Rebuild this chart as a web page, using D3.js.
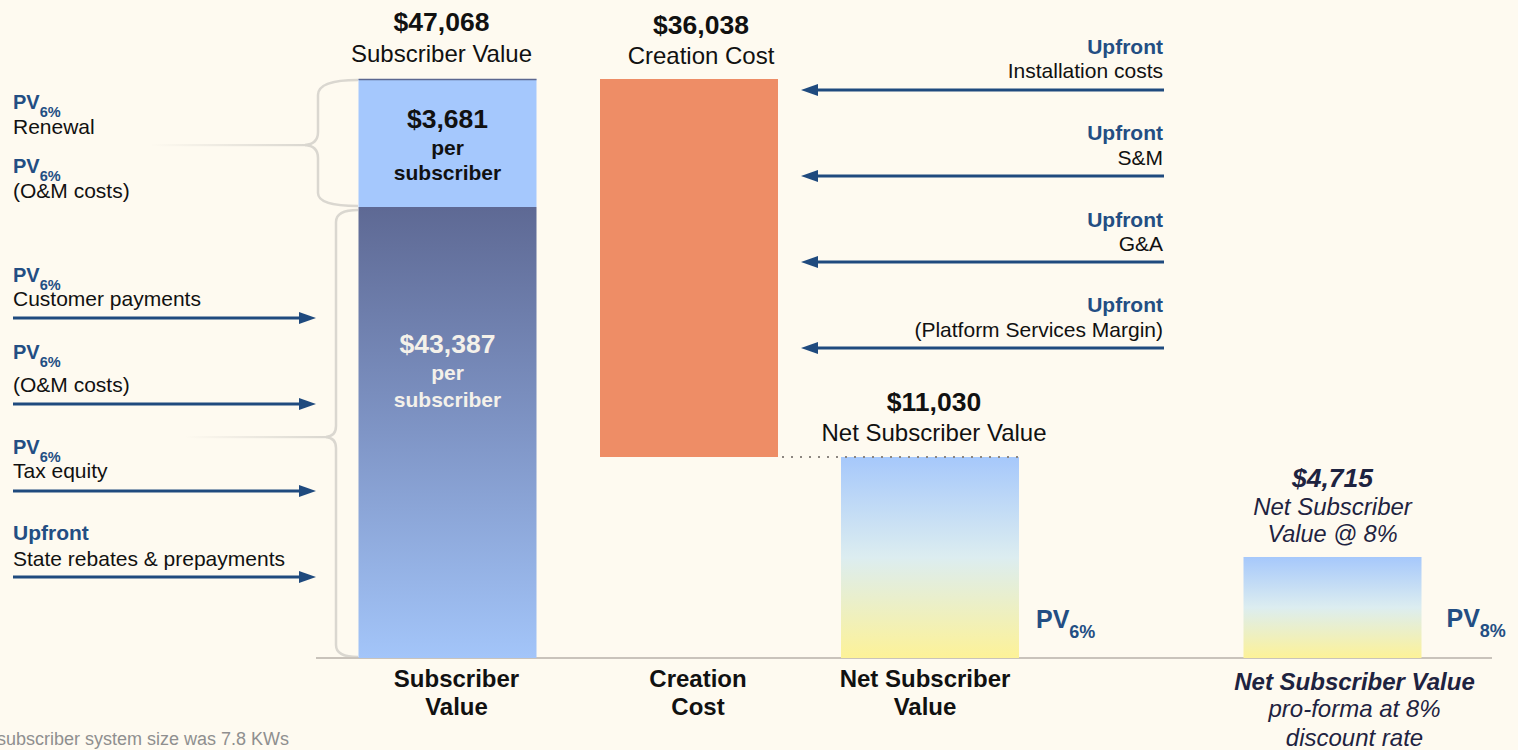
<!DOCTYPE html>
<html>
<head>
<meta charset="utf-8">
<script src="https://cdn.jsdelivr.net/npm/d3@7"></script>
<style>
  body { margin: 0; background: #fefaf0; }
  svg { display: block; font-family: "Liberation Sans", Arial, Helvetica, sans-serif; }
</style>
</head>
<body>
<div id="chart"></div>
<script>
// ---- data ----
const barNames = ["Subscriber Value", "Creation Cost", "Net Subscriber Value", "Net Subscriber Value @ 8%"];
const barValues = [47068, 36038, 11030, 4715];
const valueParts = [43387, 3681];            // recurring PV, renewal PV
const barTitles = ["$47,068", "$36,038", "$11,030", "$4,715"];
const partLabels = ["$43,387", "$3,681"];
const bottomLabels = [["Subscriber", "Value"], ["Creation", "Cost"], ["Net Subscriber", "Value"],
  ["Net Subscriber Value", "pro-forma at 8%", "discount rate"]];

const leftTags = ["PV", "PV", "PV", "PV", "PV", "Upfront"];
const leftSubs = ["6%", "6%", "6%", "6%", "6%", ""];
const leftTexts = ["Renewal", "(O&M costs)", "Customer payments", "(O&M costs)", "Tax equity", "State rebates & prepayments"];
const leftArrows = [false, false, true, true, true, true];

const rightTags = ["Upfront", "Upfront", "Upfront", "Upfront"];
const rightTexts = ["Installation costs", "S&M", "G&A", "(Platform Services Margin)"];

const footnote = "subscriber system size was 7.8 KWs";

// ---- layout ----
const W = 1518, H = 750;
const blue = "#1f4a7e", tagBlue = "#234e83", navy = "#1e2340", ink = "#111";
const barW = 178;

const svg = d3.select("#chart").append("svg")
    .attr("width", W).attr("height", H);

svg.append("rect").attr("width", W).attr("height", H).attr("fill", "#fefaf0");

const defs = svg.append("defs");
function vGrad(id, stops) {
  const g = defs.append("linearGradient").attr("id", id)
      .attr("x1", 0).attr("y1", 0).attr("x2", 0).attr("y2", 1);
  stops.forEach(s => g.append("stop").attr("offset", s[0]).attr("stop-color", s[1]));
}
vGrad("darkBlue", [[0, "#5e6994"], [0.5, "#7f95c6"], [1, "#a3c5f9"]]);
vGrad("netGrad", [[0, "#a6c8fb"], [0.5, "#dcedf0"], [1, "#fdf298"]]);
const tail = defs.append("linearGradient").attr("id", "tail")
    .attr("x1", 0).attr("y1", 0).attr("x2", 1).attr("y2", 0);
tail.append("stop").attr("offset", 0).attr("stop-color", "#dad7d0").attr("stop-opacity", 0);
tail.append("stop").attr("offset", 1).attr("stop-color", "#dad7d0").attr("stop-opacity", 1);

// the slide is schematic, not to scale: piecewise scale through the key values
const y = d3.scaleLinear()
    .domain([0, barValues[3], barValues[2], valueParts[0], barValues[0]])
    .range([658, 557, 457, 207, 79]);

const x = d3.scaleOrdinal()
    .domain(barNames)
    .range([447.5, 689, 930, 1332.5]);

// braces on the left of the first bar
const braceColor = "#dad7d0";
svg.append("path")
    .attr("d", "M358,80 Q318,80 318,95 L318,132 Q318,144 305,145 Q318,146 318,158 L318,193 Q318,206 358,206")
    .attr("fill", "none").attr("stroke", braceColor).attr("stroke-width", 2.5);
svg.append("rect").attr("x", 150).attr("y", 144).attr("width", 156).attr("height", 2.2).attr("fill", "url(#tail)");
svg.append("path")
    .attr("d", "M358,210 Q336,210 336,222 L336,426 Q336,436 326,437 Q336,438 336,448 L336,645 Q336,657 358,657")
    .attr("fill", "none").attr("stroke", braceColor).attr("stroke-width", 2.5);
svg.append("rect").attr("x", 185).attr("y", 436).attr("width", 142).attr("height", 2.2).attr("fill", "url(#tail)");

// baseline
svg.append("line")
    .attr("x1", 316).attr("x2", 1492).attr("y1", y(0)).attr("y2", y(0))
    .attr("stroke", "#c9c3bb").attr("stroke-width", 2);

// ---- bars ----
const bars = [
  { name: barNames[0], top: valueParts[0], bottom: 0, fill: "url(#darkBlue)" },
  { name: barNames[0], top: valueParts[0] + valueParts[1], bottom: valueParts[0], fill: "#a5c8fd" },
  { name: barNames[1], top: barValues[0], bottom: barValues[0] - barValues[1], fill: "#ee8d66" },
  { name: barNames[2], top: barValues[2], bottom: 0, fill: "url(#netGrad)" },
  { name: barNames[3], top: barValues[3], bottom: 0, fill: "url(#netGrad)" }
];
svg.selectAll("rect.bar")
  .data(bars)
  .enter().append("rect")
    .attr("class", "bar")
    .attr("x", d => x(d.name) - barW / 2)
    .attr("y", d => y(d.top))
    .attr("width", barW)
    .attr("height", d => y(d.bottom) - y(d.top))
    .attr("fill", d => d.fill);

// thin dark top edge of subscriber bar
svg.append("line")
    .attr("x1", x(barNames[0]) - barW / 2).attr("x2", x(barNames[0]) + barW / 2)
    .attr("y1", y(barValues[0]) + 0.5).attr("y2", y(barValues[0]) + 0.5)
    .attr("stroke", "#5c6790").attr("stroke-width", 1.5);

// dotted connector from creation cost to net value
svg.append("line")
    .attr("x1", x(barNames[1]) + barW / 2 + 4).attr("x2", x(barNames[2]) + barW / 2)
    .attr("y1", y(barValues[2])).attr("y2", y(barValues[2]))
    .attr("stroke", "#8c8680").attr("stroke-width", 2).attr("stroke-dasharray", "2,7");

// ---- text helper ----
function txt(xp, yp, s, o = {}) {
  return svg.append("text")
      .attr("x", xp).attr("y", yp)
      .attr("text-anchor", o.anchor || "middle")
      .attr("font-size", o.size || 24)
      .attr("font-weight", o.weight || "normal")
      .attr("font-style", o.style || "normal")
      .attr("fill", o.fill || ink)
      .text(s);
}
function pv(xp, yp, tag, sub, size, subSize, subDy) {
  const t = svg.append("text").attr("x", xp).attr("y", yp)
      .attr("font-weight", "bold").attr("fill", tagBlue);
  t.append("tspan").attr("font-size", size).text(tag);
  if (sub) t.append("tspan").attr("font-size", subSize).attr("dy", subDy).text(sub);
}

// titles above bars
const titleOffsets = [-6, 12, 4, 0];
const titleY = [[31, 62], [34, 64], [411, 441]];
titleY.forEach((ty, i) => {
  txt(x(barNames[i]) + titleOffsets[i], ty[0], barTitles[i], { size: 26.5, weight: "bold" });
  txt(x(barNames[i]) + titleOffsets[i], ty[1], barNames[i], { size: 24 });
});
txt(x(barNames[3]), 487, barTitles[3], { size: 26.5, weight: "bold", style: "italic", fill: navy });
txt(x(barNames[3]), 515, "Net Subscriber", { size: 24, style: "italic", fill: navy });
txt(x(barNames[3]), 542, "Value @ 8%", { size: 23.5, style: "italic", fill: navy });

// labels inside the subscriber bar
const cx0 = x(barNames[0]);
txt(cx0, 128, partLabels[1], { size: 26.5, weight: "bold" });
txt(cx0, 155, "per", { size: 21, weight: "bold" });
txt(cx0, 180, "subscriber", { size: 21, weight: "bold" });
txt(cx0, 353, partLabels[0], { size: 26.5, weight: "bold", fill: "#f4f1ea" });
txt(cx0, 380, "per", { size: 21, weight: "bold", fill: "#f4f1ea" });
txt(cx0, 407, "subscriber", { size: 21, weight: "bold", fill: "#f4f1ea" });

// category labels below the baseline
const bottomOffsets = [9, 9, -5];
[0, 1, 2].forEach(i => {
  txt(x(barNames[i]) + bottomOffsets[i], 687, bottomLabels[i][0], { size: 24, weight: "bold" });
  txt(x(barNames[i]) + bottomOffsets[i], 715, bottomLabels[i][1], { size: 24, weight: "bold" });
});
txt(x(barNames[3]) + 22, 690, bottomLabels[3][0], { size: 24, weight: "bold", style: "italic", fill: navy });
txt(x(barNames[3]) + 22, 717, bottomLabels[3][1], { size: 24, style: "italic", fill: navy });
txt(x(barNames[3]) + 22, 746, bottomLabels[3][2], { size: 24, style: "italic", fill: navy });

// PV markers beside the net bars
pv(x(barNames[2]) + barW / 2 + 17, 628, "PV", "6%", 25, 18, 10);
pv(x(barNames[3]) + barW / 2 + 25, 627, "PV", "8%", 25, 18, 10);

// ---- arrows ----
function arrow(x1, x2, yy) {
  const dir = Math.sign(x2 - x1), head = 17, half = 6;
  svg.append("line").attr("x1", x1).attr("x2", x2 - dir * head + dir).attr("y1", yy).attr("y2", yy)
      .attr("stroke", blue).attr("stroke-width", 2.8);
  svg.append("path")
      .attr("d", `M${x2},${yy} L${x2 - dir * head},${yy - half} L${x2 - dir * head},${yy + half} Z`)
      .attr("fill", blue);
}

// left side inflows
const leftPos = [
  { tag: 109, text: 134 }, { tag: 173, text: 198 },
  { tag: 282, text: 306, arrow: 318 }, { tag: 359, text: 392, arrow: 404 },
  { tag: 454, text: 478, arrow: 491 }, { tag: 540, text: 566, arrow: 577 }
];
leftTags.forEach((tag, i) => {
  const p = leftPos[i];
  if (leftSubs[i]) pv(13, p.tag, tag, leftSubs[i], 20, 14.5, 8);
  else txt(13, p.tag, tag, { anchor: "start", size: 21, weight: "bold", fill: tagBlue });
  txt(13, p.text, leftTexts[i], { anchor: "start", size: 21 });
  if (leftArrows[i]) arrow(13, 316, p.arrow);
});

// right side outflows
const rightPos = [
  { tag: 54, text: 78, arrow: 90 }, { tag: 140, text: 165, arrow: 176 },
  { tag: 227, text: 251, arrow: 262 }, { tag: 312, text: 337, arrow: 348 }
];
rightTags.forEach((tag, i) => {
  const p = rightPos[i];
  txt(1163, p.tag, tag, { anchor: "end", size: 21, weight: "bold", fill: tagBlue });
  txt(1163, p.text, rightTexts[i], { anchor: "end", size: 21 });
  arrow(1164, 801, p.arrow);
});

// footnote (cut at the slide edge)
txt(-3, 745, footnote, { anchor: "start", size: 18, fill: "#8f8f8f" });
</script>
</body>
</html>
